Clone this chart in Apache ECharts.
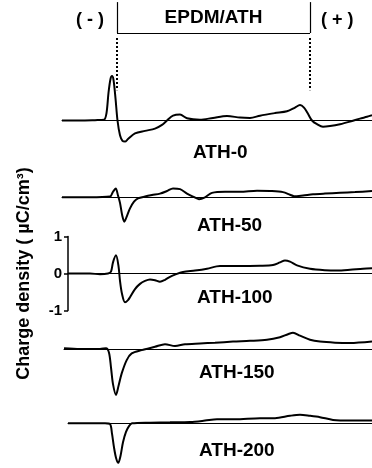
<!DOCTYPE html>
<html>
<head>
<meta charset="utf-8">
<script src="https://cdn.jsdelivr.net/npm/echarts@6.0.0/dist/echarts.min.js"></script>
<style>
	html, body { margin: 0; padding: 0; background: #fff; }
	#charge_chart { width: 372px; height: 468px; }
</style>
</head>
<body>
<div id="charge_chart"></div>
<script>
// position across the sample (arbitrary units), charge density in µC/cm³
var samples = ["ATH-0", "ATH-50", "ATH-100", "ATH-150", "ATH-200"];
var electrodes = [55, 248];
var axisTicks = [-1, 0, 1];

var ath0 = [
	[0, 0], [18, 0], [33, 0.01], [42, 0.02], [44.5, 0.2], [46.5, 0.75], [48.5, 1.12],
	[50, 1.2], [51.5, 1.1], [53.5, 0.6], [55.5, 0], [58, -0.4], [60.5, -0.55],
	[63, -0.57], [66, -0.5], [73, -0.35], [83, -0.28], [93, -0.22], [100, -0.12],
	[105, 0], [111, 0.13], [118, 0.16], [125, 0.06], [138, 0.02], [151, 0.07],
	[165, 0.12], [178, 0.08], [188, 0.07], [198, 0.13], [213, 0.2], [225, 0.25],
	[233, 0.35], [238, 0.42], [242, 0.35], [246, 0.18], [250, 0], [255, -0.1],
	[261, -0.17], [268, -0.15], [278, -0.1], [288, -0.03], [298, 0.05], [305, 0.1],
	[310, 0.14]
];
var ath50 = [
	[0, 0], [28, 0], [48, 0.02], [51, 0.15], [53.7, 0.24], [56, 0.05], [58, -0.15],
	[60.3, -0.5], [62.3, -0.66], [65, -0.5], [68, -0.3], [72, -0.12], [76, -0.03],
	[83, 0.02], [90, 0.06], [98, 0.1], [105, 0.17], [111, 0.24], [118, 0.22],
	[125, 0.1], [131, 0.02], [137, -0.05], [143, 0], [150, 0.12], [163, 0.15],
	[178, 0.15], [195, 0.18], [208, 0.17], [221, 0.14], [228, 0.07], [232, 0.03],
	[241, 0.05], [251, 0.08], [263, 0.1], [278, 0.12], [293, 0.14], [310, 0.17]
];
var ath100 = [
	[6, 0], [28, 0], [38, -0.02], [46, 0], [49, 0.05], [51, 0.3], [54, 0.49],
	[56.5, 0.2], [58, -0.2], [60, -0.55], [63, -0.78], [66, -0.72], [68, -0.64],
	[73, -0.42], [78, -0.28], [83, -0.2], [88, -0.16], [93, -0.18], [98, -0.22],
	[103, -0.17], [108, -0.09], [113, -0.03], [121, 0.04], [133, 0.08], [145, 0.13],
	[158, 0.2], [178, 0.2], [198, 0.21], [211, 0.23], [218, 0.3], [223, 0.35],
	[228, 0.32], [235, 0.22], [248, 0.13], [263, 0.09], [275, 0.08], [288, 0.1],
	[301, 0.13], [310, 0.14]
];
var ath150 = [
	[2, 0.02], [18, 0], [38, 0], [44, 0.02], [47, -0.1], [49, -0.5], [51, -0.95],
	[54, -1.24], [56.5, -1.0], [59.7, -0.66], [64.7, -0.3], [69.7, -0.12],
	[79.7, -0.03], [93, 0.06], [103, 0.13], [113, 0.08], [123, 0.13], [138, 0.15],
	[153, 0.17], [171, 0.2], [188, 0.22], [205, 0.25], [218, 0.32], [226, 0.4],
	[231, 0.44], [238, 0.36], [248, 0.25], [258, 0.2], [273, 0.17], [288, 0.16],
	[310, 0.2]
];
var ath200 = [
	[6, 0], [28, 0], [43, 0], [48, -0.02], [50, -0.3], [52, -0.7], [54, -1.0],
	[56.3, -1.15], [58.5, -0.95], [61, -0.55], [64, -0.25], [67, -0.08], [70, 0],
	[88, 0.02], [108, 0.03], [128, 0.04], [143, 0.08], [155, 0.12], [173, 0.12],
	[198, 0.15], [213, 0.15], [228, 0.22], [238, 0.25], [248, 0.22], [258, 0.18],
	[271, 0.1], [288, 0.08], [310, 0.08]
];
var traces = [ath0, ath50, ath100, ath150, ath200];

function charge_chart() {
	var chart = echarts.init(document.getElementById("charge_chart"));
	var unit = 37; // px per µC/cm³, same for every panel
	// left edge, zero line, y range of each panel
	var panels = [
		{ left: 62, zero: 120.5, min: -1, max: 3.25 },
		{ left: 62, zero: 197.3, min: -1, max: 1 },
		{ left: 68, zero: 273.5, min: -1, max: 1 },
		{ left: 64, zero: 349, min: -1.5, max: 1 },
		{ left: 68, zero: 426, min: -1.3, max: 1 }
	];
	var labelPos = [[193, 153.5], [197, 226.5], [197, 298.3], [199, 373.3], [199, 451.7]];
	var font = "Liberation Sans, Arial, sans-serif";

	var grid = [], xAxis = [], yAxis = [], series = [], graphic = [];
	panels.forEach(function (p, i) {
		grid.push({
			left: p.left,
			right: 0,
			top: p.zero - p.max * unit,
			height: (p.max - p.min) * unit
		});
		xAxis.push({
			type: 'value',
			gridIndex: i,
			min: p.left - 62,
			max: 310,
			axisLine: { onZero: true, lineStyle: { color: '#000', width: 1 } },
			axisTick: { show: false },
			axisLabel: { show: false },
			splitLine: { show: false }
		});
		var isScale = i === 2;
		yAxis.push({
			type: 'value',
			gridIndex: i,
			min: p.min,
			max: p.max,
			interval: 1,
			show: isScale,
			name: isScale ? 'Charge density ( µC/cm³)' : '',
			nameLocation: 'middle',
			nameGap: 35,
			nameTextStyle: { fontFamily: font, fontWeight: 'bold', fontSize: 18, color: '#000' },
			axisLine: { show: true, onZero: false, lineStyle: { color: '#000', width: 1.5 } },
			axisTick: { show: true, length: 4, lineStyle: { color: '#000', width: 1.5 } },
			axisLabel: {
				fontFamily: font, fontWeight: 'bold', fontSize: 15, color: '#000', margin: 6,
				formatter: function (v) {
					return axisTicks.indexOf(v) >= 0 ? String(v) : '';
				}
			},
			splitLine: { show: false }
		});
		var s = {
			name: samples[i],
			type: 'line',
			xAxisIndex: i,
			yAxisIndex: i,
			data: traces[i],
			smooth: 0.3,
			showSymbol: false,
			lineStyle: { color: '#000', width: 2 },
			silent: true
		};
		if (i === 0) {
			// electrode boundaries and the sample bracket
			var dotted = { type: [2, 2], color: '#000', width: 2 };
			var solid = { type: 'solid', color: '#000', width: 1.2 };
			s.markLine = {
				silent: true,
				symbol: ['none', 'none'],
				label: { show: false },
				data: [
					[{ coord: [electrodes[0], 2.23], lineStyle: dotted }, { coord: [electrodes[0], 0.82] }],
					[{ coord: [electrodes[1], 2.23], lineStyle: dotted }, { coord: [electrodes[1], 0.82] }],
					[{ coord: [electrodes[0], 3.2], lineStyle: solid }, { coord: [electrodes[0], 2.365] }],
					[{ coord: [electrodes[1], 3.2], lineStyle: solid }, { coord: [electrodes[1], 2.365] }],
					[{
						coord: [electrodes[0], 2.365], lineStyle: solid,
						label: {
							show: true, position: 'insideMiddleTop', distance: 6,
							formatter: 'EPDM/ATH', color: '#000',
							fontFamily: font, fontWeight: 'bold', fontSize: 19
						}
					}, { coord: [electrodes[1], 2.365] }]
				]
			};
		}
		series.push(s);
		graphic.push({
			type: 'text',
			left: labelPos[i][0],
			top: labelPos[i][1] - 10,
			style: { text: samples[i], fill: '#000', font: 'bold 19px ' + font }
		});
	});
	graphic.push({
		type: 'text', left: 76, top: 11,
		style: { text: '( - )', fill: '#000', font: 'bold 18px ' + font }
	});
	graphic.push({
		type: 'text', left: 321, top: 11,
		style: { text: '( + )', fill: '#000', font: 'bold 18px ' + font }
	});

	chart.setOption({
		animation: false,
		backgroundColor: '#fff',
		grid: grid,
		xAxis: xAxis,
		yAxis: yAxis,
		series: series,
		graphic: graphic
	});
}
charge_chart();
</script>
</body>
</html>
